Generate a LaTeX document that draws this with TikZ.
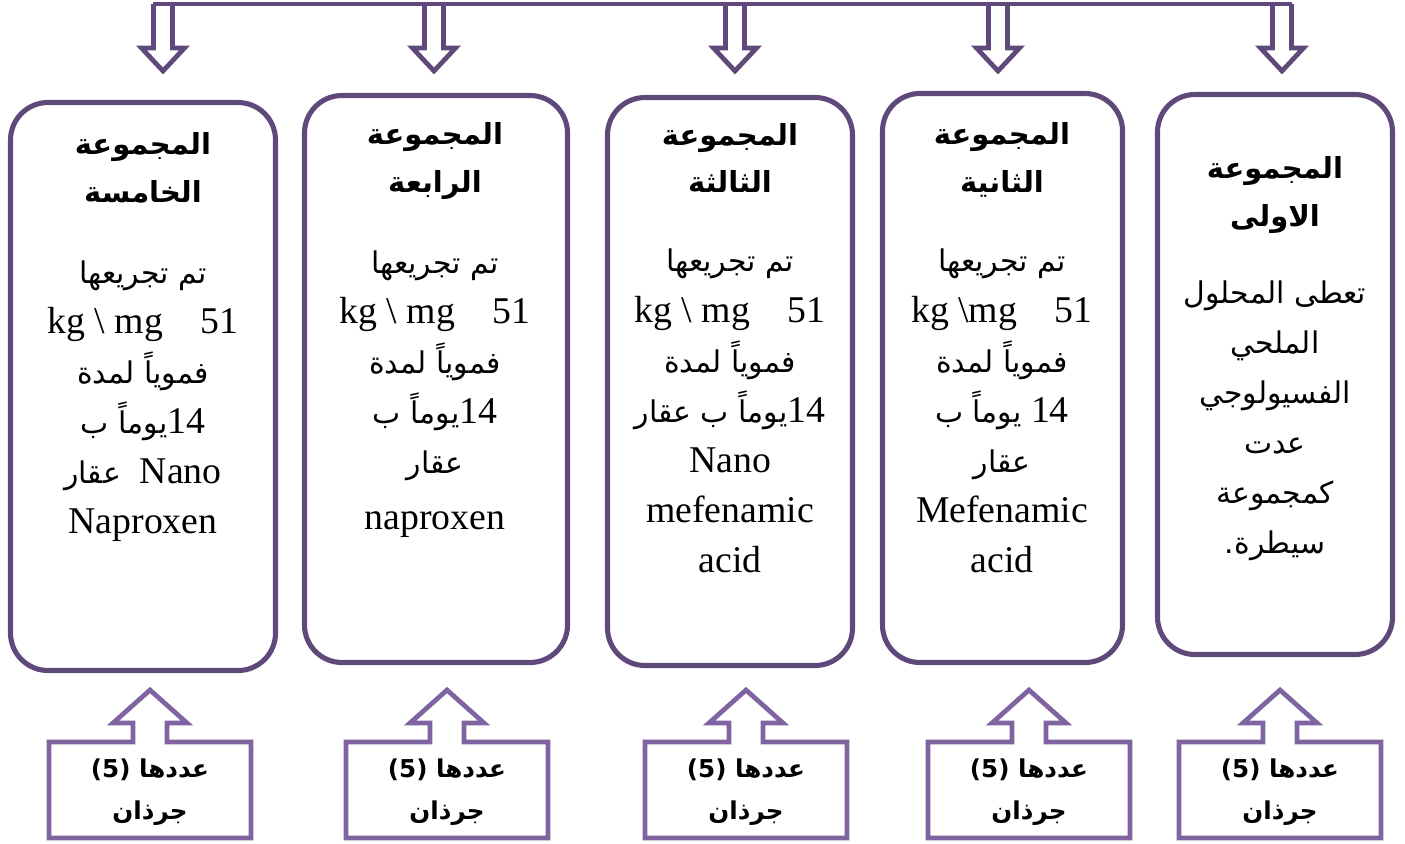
\documentclass[tikz,border=0pt]{standalone}
\usepackage{fontspec}
\setmainfont{Liberation Serif}
\newfontfamily\arabicfont[Script=Arabic]{DejaVu Sans}
\TeXXeTstate=1
\definecolor{darkpurple}{RGB}{95,73,122}
\definecolor{lightpurple}{RGB}{128,100,162}
\newcommand{\ar}[1]{{\arabicfont\fontsize{17}{28.5}\selectfont\beginR #1\endR}}
\newcommand{\rl}[1]{\beginR #1\endR}

\begin{document}
\begin{tikzpicture}[
  x=0.02cm, y=-0.02cm,
  groupbox/.style={draw=darkpurple, line width=2.9pt, rounded corners=0.75cm},
  downarrow/.style={draw=darkpurple, line width=2.7pt, line join=miter},
  countarrow/.style={draw=lightpurple, line width=2.7pt, line join=miter},
  title/.style={align=center, inner sep=0pt,
    font=\arabicfont\bfseries\fontsize{16.5}{27}\selectfont},
  body/.style={align=center, inner sep=0pt, font=\fontsize{21.5}{28.5}\selectfont},
  count/.style={align=center, inner sep=0pt,
    font=\arabicfont\bfseries\fontsize{14}{24}\selectfont}
]
\useasboundingbox (0,0) rectangle (1405,843);

% top bar and arrows down
\draw[downarrow] (153,4) -- (1292,4);
\foreach \x in {163,434,735,998,1282}
  \draw[downarrow] (\x-9.5,4) -- (\x-9.5,48) -- (\x-21.5,48) -- (\x,71)
    -- (\x+21.5,48) -- (\x+9.5,48) -- (\x+9.5,4);

% groups
\draw[groupbox] (10.5,102.5) rectangle (275.5,670.5);
\draw[groupbox] (304.5,95.5) rectangle (567.5,662.5);
\draw[groupbox] (607.5,97.5) rectangle (852.5,665.5);
\draw[groupbox] (882.5,93.5) rectangle (1122.5,662.5);
\draw[groupbox] (1157.5,94.5) rectangle (1392.5,654.5);

\node[title] (t5) at (143,168) {\rl{المجموعة}\\ \rl{الخامسة}};
\node[title] (t4) at (435,161) {\rl{المجموعة}\\ \rl{الرابعة}};
\node[title] (t3) at (730,158) {\rl{المجموعة}\\ \rl{الثالثة}};
\node[title] (t2) at (1002,160) {\rl{المجموعة}\\ \rl{الثانية}};
\node[title] (t1) at (1275,195) {\rl{المجموعة}\\ \rl{الاولى}};

\node[body] (b5) at (143,401) {\ar{تم تجريعها}\\
  kg \textbackslash\ mg\quad 51\\
  \ar{فموياً لمدة}\\
  \ar{يوماً ب}14\\
  \ar{عقار}\ \ Nano\\
  Naproxen};
\node[body] (b4) at (435,394) {\ar{تم تجريعها}\\
  kg \textbackslash\ mg\quad 51\\
  \ar{فموياً لمدة}\\
  \ar{يوماً ب}14\\
  \ar{عقار}\\[3pt]
  naproxen};
\node[body] (b3) at (730,411) {\ar{تم تجريعها}\\
  kg \textbackslash\ mg\quad 51\\
  \ar{فموياً لمدة}\\
  \ar{يوماً ب عقار}14\\
  Nano\\
  mefenamic\\
  acid};
\node[body] (b2) at (1002,411) {\ar{تم تجريعها}\\
  kg \textbackslash mg\quad 51\\
  \ar{فموياً لمدة}\\
  \ar{يوماً ب} 14\\
  \ar{عقار}\\
  Mefenamic\\
  acid};
\node[body] (b1) at (1275,421) {\ar{تعطى المحلول}\\
  \ar{الملحي}\\
  \ar{الفسيولوجي}\\
  \ar{عدت}\\
  \ar{كمجموعة}\\
  \ar{سيطرة.}};

% rats per group
\foreach \x/\n in {150/5,447/4,746/3,1029/2,1280/1} {
  \draw[countarrow] (\x-17,742) -- (\x-17,723) -- (\x-37,723) -- (\x,690)
    -- (\x+37,723) -- (\x+17,723) -- (\x+17,742) -- (\x+101,742)
    -- (\x+101,838) -- (\x-101,838) -- (\x-101,742) -- cycle;
  \node[count] (n\n) at (\x,792) {(5)\ \rl{عددها}\\ \rl{جرذان}};
}
\end{tikzpicture}
\end{document}
